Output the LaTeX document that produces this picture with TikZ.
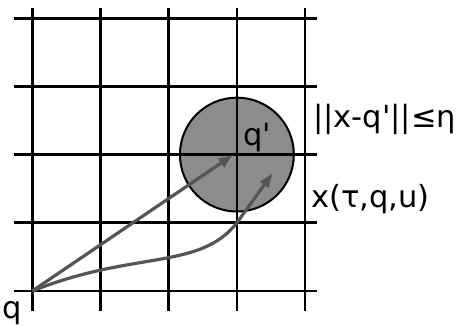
\documentclass[tikz,border=0pt]{standalone}
\usepackage{fontspec}
\setmainfont{DejaVu Sans}[Ligatures=TeXOff]
\usetikzlibrary{arrows.meta}
\definecolor{ballgray}{RGB}{140,140,140}
\definecolor{pathgray}{RGB}{85,85,85}
\begin{document}
\begin{tikzpicture}[x=68.2pt,y=68.2pt,line width=2.8pt]
\useasboundingbox (-0.474,-0.513) rectangle (6.257,4.267);
\tikzset{lbl/.style={font=\fontsize{30.5}{34}\selectfont,inner sep=0pt},
  traj/.style={draw=pathgray,line width=3.2pt,-{Latex[length=15pt,width=12pt]}}}
% target ball
\filldraw[fill=ballgray,draw=black,line width=2pt] (3,2) circle (0.835);
% grid
\draw (0,-0.29) -- (0,4.145);
\draw (1,-0.29) -- (1,4.145);
\draw (2,-0.29) -- (2,4.145);
\draw (3,-0.29) -- (3,4.145);
\draw (4,-0.29) -- (4,4.145);
\draw (-0.27,0) -- (4.17,0);
\draw (-0.27,1) -- (4.17,1);
\draw (-0.27,2) -- (4.17,2);
\draw (-0.27,3) -- (4.17,3);
\draw (-0.27,4) -- (4.17,4);
% points
\coordinate (q) at (0,0);
\coordinate (qp) at (2.95,2);
\coordinate (bend) at (3,1);
\coordinate (xt) at (3.53,1.735);
% trajectories
\draw[traj] (q) -- (qp);
\draw[traj] (q) .. controls (1.5,0.6) and (2.45,0.3) .. (bend) -- (xt);
% labels
\node[lbl,anchor=base] (qlab) at (-0.30,-0.41) {q};
\node[lbl,anchor=base west] (qplab) at (3.07,2.14) {q'};
\node[lbl,anchor=base west] (etalab) at (4.10,2.40) {||x-q'||≤η};
\node[lbl,anchor=base west] (xlab) at (4.07,1.22) {x(τ,q,u)};
\end{tikzpicture}
\end{document}
